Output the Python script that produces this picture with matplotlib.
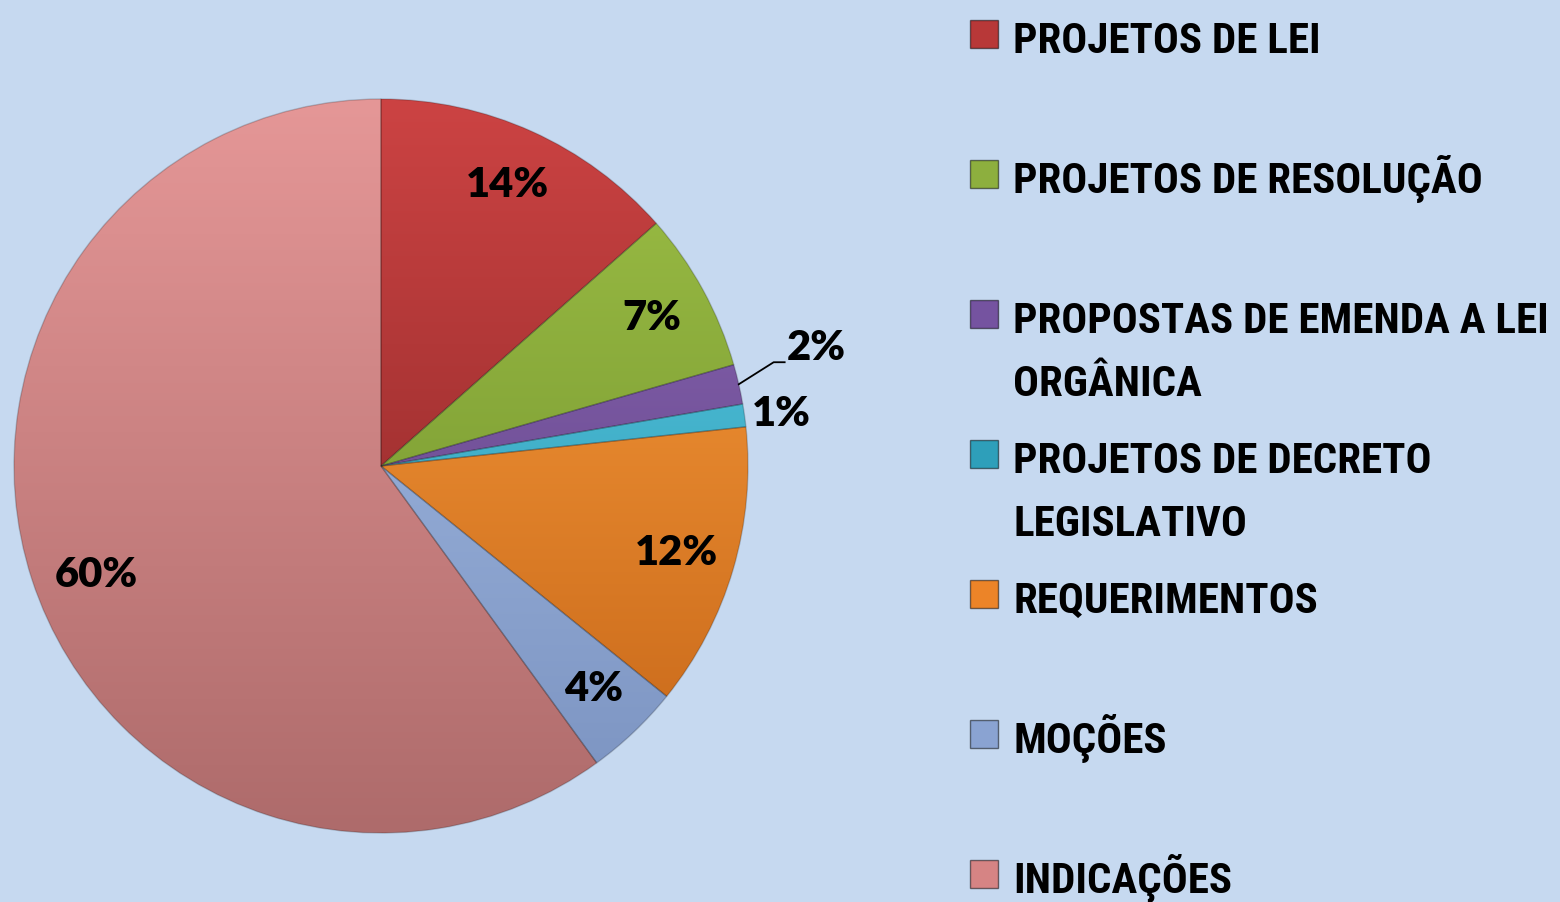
import matplotlib.pyplot as plt
import numpy as np
from matplotlib import font_manager
from matplotlib.colors import LinearSegmentedColormap
from matplotlib.patches import Rectangle

# dados (percentuais)
categorias = ['PROJETOS DE LEI', 'PROJETOS DE RESOLUÇÃO',
              'PROPOSTAS DE EMENDA A LEI\nORGÂNICA',
              'PROJETOS DE DECRETO\nLEGISLATIVO',
              'REQUERIMENTOS', 'MOÇÕES', 'INDICAÇÕES']
valores = [13.5, 7.05, 1.75, 1.0, 12.5, 4.2, 60.0]
rotulos = ['14%', '7%', '2%', '1%', '12%', '4%', '60%']

# cores (topo, base) de cada fatia
cor_topo = ['#CC4343', '#9EC046', '#8C68B6', '#58CCE4', '#FFA23F', '#A9C1E8', '#E59797']
cor_base = ['#7E2222', '#6A8A2A', '#5A3D7E', '#2B93AE', '#C46417', '#7A92C0', '#AE6B6B']
cor_legenda = ['#B83838', '#8DAF3E', '#7553A0', '#2E9FBA', '#EC8428', '#8AA3D2', '#D68484']

W, H = 1560, 902
fundo = '#C6D9F0'

fig = plt.figure(figsize=(W / 100, H / 100), dpi=100, facecolor=fundo)
ax = fig.add_axes([14 / W, 69 / H, 734 / W, 734 / H])
ax.set_facecolor(fundo)

wedges, textos = ax.pie(valores, startangle=90, counterclock=False, radius=1.0,
                        wedgeprops=dict(linewidth=1.0, edgecolor='#00000030'))

grad = np.linspace(0, 1, 256).reshape(-1, 1)
for w, top, bot in zip(wedges, cor_topo, cor_base):
    cmap = LinearSegmentedColormap.from_list('g', [bot, top])
    im = ax.imshow(grad, extent=(-1, 1, -1, 1), origin='lower', cmap=cmap,
                   aspect='auto', zorder=1.5)
    im.set_clip_path(w)
    w.set_zorder(2)
    w.set_facecolor('none')

ax.set_xlim(-1.0, 1.0)
ax.set_ylim(-1.0, 1.0)
ax.set_aspect('equal')
ax.axis('off')

# rotulos de percentual
fonte_pct = dict(family='Lato', weight='heavy', size=30, color='black')
for w, txt in zip(wedges, rotulos):
    meio = np.deg2rad((w.theta1 + w.theta2) / 2)
    if txt == '2%':
        p0 = np.array([np.cos(meio), np.sin(meio)])
        p1 = p0 + np.array([0.095, 0.06])
        p2 = p1 + np.array([0.03, 0.0])
        ax.plot([p0[0], p1[0], p2[0]], [p0[1], p1[1], p2[1]], color='black', lw=1.3,
                zorder=3, clip_on=False)
        ax.text(p2[0] + 0.005, p2[1] + 0.04, txt, ha='left', va='center', zorder=4,
                clip_on=False, **fonte_pct)
    elif txt == '1%':
        r = 1.1
        ax.text(r * np.cos(meio), r * np.sin(meio) - 0.01, txt, ha='center', va='center',
                zorder=4, **fonte_pct)
    elif txt == '60%':
        r = 0.83
        meio = meio + np.deg2rad(3)
        ax.text(r * np.cos(meio), r * np.sin(meio), txt, ha='center', va='center',
                zorder=4, **fonte_pct)
    else:
        r = 0.84
        ax.text(r * np.cos(meio), r * np.sin(meio), txt, ha='center', va='center',
                zorder=4, **fonte_pct)

# legenda
nomes = {f.name for f in font_manager.fontManager.ttflist}
if 'Roboto Condensed' in nomes:
    fonte_leg = dict(family='Roboto Condensed', weight='bold', size=31, color='black')
elif 'Liberation Sans Narrow' in nomes:
    fonte_leg = dict(family='Liberation Sans Narrow', weight='bold', size=31, color='black')
else:
    fonte_leg = dict(family='Roboto', weight='bold', size=25, color='black')
for i, (cat, cor) in enumerate(zip(categorias, cor_legenda)):
    base = 53 + 140 * i
    fig.add_artist(Rectangle((970 / W, 1 - (base - 5) / H), 28 / W, 28 / H,
                             transform=fig.transFigure, facecolor=cor,
                             edgecolor='#00000080', lw=1))
    for j, linha in enumerate(cat.split('\n')):
        fig.text(1013 / W, 1 - (base + 63 * j) / H, linha, ha='left', va='baseline', **fonte_leg)

fig.savefig('out.png', dpi=100, facecolor=fundo)
